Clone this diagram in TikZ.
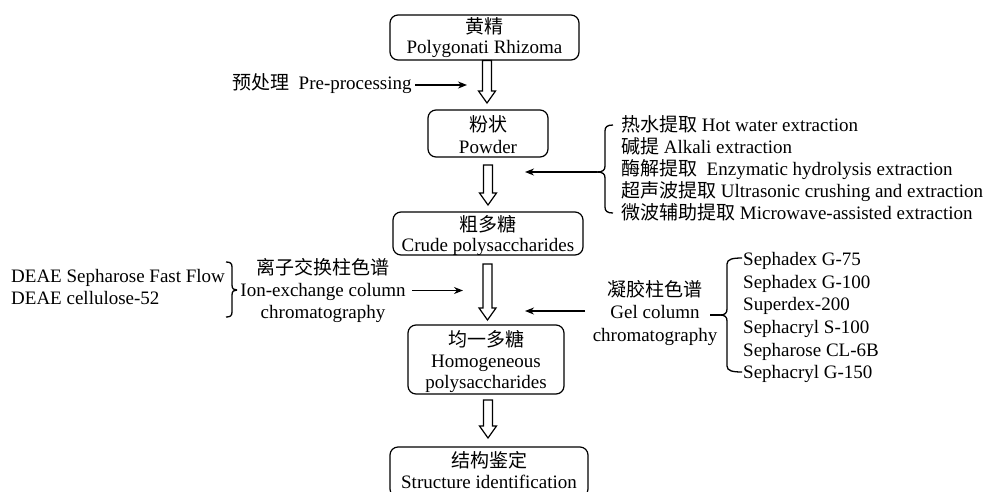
\documentclass[tikz,border=0pt]{standalone}
\usepackage{fontspec}
\setmainfont{Liberation Serif}
\newfontfamily\cjk[Scale=1.0]{Noto Sans CJK SC}
\usetikzlibrary{arrows.meta,calc}
\newcommand\hollowarrow[2]{%
  \draw[hol] let \p1=(#1), \p2=(#2) in
   (\x1-4.5pt,\y1) -- (\x1-4.5pt,\y2+12pt) -- (\x1-8.5pt,\y2+12pt) -- (\x1,\y2)
   -- (\x1+8.5pt,\y2+12pt) -- (\x1+4.5pt,\y2+12pt) -- (\x1+4.5pt,\y1) -- cycle;}
\begin{document}
\begin{tikzpicture}[x=1pt,y=-1pt,
  txt/.style={inner sep=0pt, font=\fontsize{19}{21}\selectfont, anchor=base},
  txtw/.style={txt, anchor=base west},
  box/.style={draw, line width=1.2pt, rounded corners=8pt, inner sep=0pt},
  hol/.style={line width=1.2pt, line join=miter},
  arr/.style={line width=1.3pt, -{Stealth[length=9pt,width=7pt]}},
  brc/.style={line width=1.3pt}]
\useasboundingbox (0,0) rectangle (988,491);
\fill[white] (0,0) rectangle (988,491);
\clip (0,0) rectangle (988,491);

% main boxes
\node[box, minimum width=189pt, minimum height=45pt] (b1) at (484.5,37.5) {};
\node[txt] (b1a) at (484.5,33.5) {\cjk 黄精};
\node[txt] (b1b) at (484.5,53.5) {Polygonati Rhizoma};

\node[box, minimum width=120pt, minimum height=47pt] (b2) at (488,133.5) {};
\node[txt] (b2a) at (488,131) {\cjk 粉状};
\node[txt] (b2b) at (488,153) {Powder};

\node[box, minimum width=190pt, minimum height=43pt] (b3) at (488,233.5) {};
\node[txt] (b3a) at (488,231) {\cjk 粗多糖};
\node[txt] (b3b) at (488,251.5) {Crude polysaccharides};

\node[box, minimum width=156pt, minimum height=69pt] (b4) at (486,359.5) {};
\node[txt] (b4a) at (486,346) {\cjk 均一多糖};
\node[txt] (b4b) at (486,367) {Homogeneous};
\node[txt] (b4c) at (486,388) {polysaccharides};

\node[box, minimum width=198pt, minimum height=50pt] (b5) at (489,472) {};
\node[txt] (b5a) at (489,467) {\cjk 结构鉴定};
\node[txt] (b5b) at (489,488) {Structure identification};

% hollow arrows
\coordinate (h1s) at (487,60.5);  \coordinate (h1e) at (487,103);
\coordinate (h2s) at (488,165);   \coordinate (h2e) at (488,205);
\coordinate (h3s) at (487.5,264); \coordinate (h3e) at (487.5,320);
\coordinate (h4s) at (488,400);   \coordinate (h4e) at (488,438);
\hollowarrow{h1s}{h1e}
\hollowarrow{h2s}{h2e}
\hollowarrow{h3s}{h3e}
\hollowarrow{h4s}{h4e}

% pre-processing
\node[txtw] (pre) at (232,89.5) {{\cjk 预处理}\ \ Pre-processing};
\coordinate (pa) at (415,85); \coordinate (pb) at (467,85);
\draw[arr] (pa) -- (pb);

% extraction list
\node[txtw] (e1) at (621,131) {{\cjk 热水提取} Hot water extraction};
\node[txtw] (e2) at (621,153) {{\cjk 碱提} Alkali extraction};
\node[txtw] (e3) at (621,175) {{\cjk 酶解提取}\ \ Enzymatic hydrolysis extraction};
\node[txtw] (e4) at (621,197) {{\cjk 超声波提取} Ultrasonic crushing and extraction};
\node[txtw] (e5) at (621,219) {{\cjk 微波辅助提取} Microwave-assisted extraction};
\draw[brc] (613,125) .. controls (607,125) and (605,127) .. (605,131) -- (605,166)
  .. controls (605,170) and (603,172) .. (597,172);
\draw[brc] (613,213) .. controls (607,213) and (605,211) .. (605,207) -- (605,178)
  .. controls (605,174) and (603,172) .. (597,172);
\coordinate (etip) at (597,172); \coordinate (eend) at (525,172);
\draw[arr] (etip) -- (eend);

% ion exchange
\node[txtw] (d1) at (11,282) {DEAE Sepharose Fast Flow};
\node[txtw] (d2) at (11,304) {DEAE cellulose-52};
\draw[brc] (226,262) .. controls (230,262) and (232,263) .. (232,267) -- (232,285)
  .. controls (232,289) and (234,290) .. (237,290);
\draw[brc] (226,317) .. controls (230,317) and (232,316) .. (232,312) -- (232,295)
  .. controls (232,291) and (234,290) .. (237,290);
\node[txt] (i1) at (323,274) {\cjk 离子交换柱色谱};
\node[txt] (i2) at (323,296) {Ion-exchange column};
\node[txt] (i3) at (323,318) {chromatography};
\coordinate (ia) at (412,290.5); \coordinate (ib) at (463,290.5);
\draw[arr] (ia) -- (ib);

% gel column
\node[txt] (g1) at (655,296) {\cjk 凝胶柱色谱};
\node[txt] (g2) at (655,318) {Gel column};
\node[txt] (g3) at (655,341) {chromatography};
\coordinate (ga) at (585,311); \coordinate (gb) at (525,311);
\draw[arr] (ga) -- (gb);
\draw[brc] (742,258) .. controls (733,258) and (727,259) .. (727,264) -- (727,309)
  .. controls (727,313) and (725,315) .. (720,315);
\draw[brc] (742,372) .. controls (733,372) and (727,371) .. (727,366) -- (727,321)
  .. controls (727,317) and (725,315) .. (720,315);
\coordinate (gt) at (710,315); \coordinate (gm) at (720,315);
\draw[brc] (gt) -- (gm);
\node[txtw] (s1) at (743,265) {Sephadex G-75};
\node[txtw] (s2) at (743,288) {Sephadex G-100};
\node[txtw] (s3) at (743,310) {Superdex-200};
\node[txtw] (s4) at (743,333) {Sephacryl S-100};
\node[txtw] (s5) at (743,356) {Sepharose CL-6B};
\node[txtw] (s6) at (743,378) {Sephacryl G-150};
\end{tikzpicture}
\end{document}
